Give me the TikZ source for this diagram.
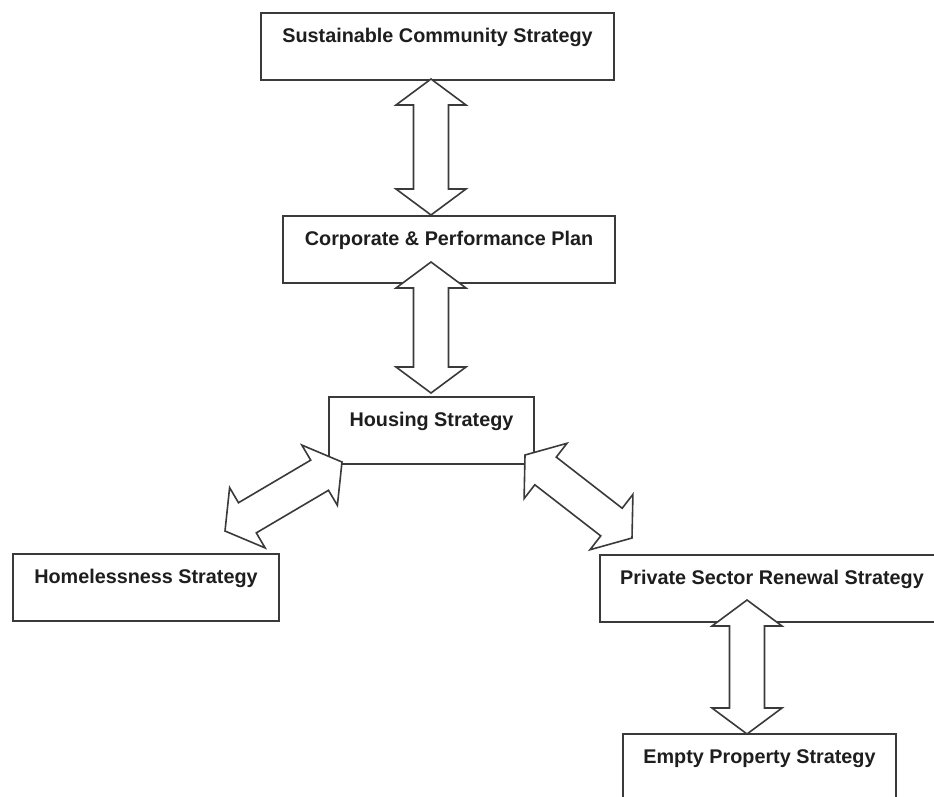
\documentclass[tikz,border=0pt]{standalone}
\usepackage{fontspec}
\setmainfont{Liberation Sans}
\usetikzlibrary{calc}
\definecolor{ln}{HTML}{3A3A3A}
\definecolor{tx}{HTML}{1E1E1E}
\tikzset{
  box/.style={draw=ln, line width=1.8pt, fill=white, inner xsep=0pt, inner ysep=0pt,
    text height=30pt, text depth=37pt, font=\bfseries\fontsize{19.8}{22}\selectfont, text=tx},
  barrow/.style={draw=ln, line width=1.6pt, fill=white, line join=miter},
}
\newcommand\blockarr[2]{%
  \path ($(#1)!26pt!(#2)$) coordinate (ha) ($(#2)!26pt!(#1)$) coordinate (hb);
  \draw[barrow] (#1) -- ($(ha)!35pt!90:(#2)$) -- ($(ha)!17.5pt!90:(#2)$)
    -- ($(hb)!17.5pt!-90:(#1)$) -- ($(hb)!35pt!-90:(#1)$) -- (#2)
    -- ($(hb)!35pt!90:(#1)$) -- ($(hb)!17.5pt!90:(#1)$)
    -- ($(ha)!17.5pt!-90:(#2)$) -- ($(ha)!35pt!-90:(#2)$) -- cycle;}
\begin{document}
\begin{tikzpicture}[x=1pt,y=-1pt]
\useasboundingbox (0,0) rectangle (934,796);
\clip (0,0) rectangle (934,796);
\fill[white] (0,0) rectangle (934,796);
% boxes: anchor north at top edge
\node[box, minimum width=353pt, anchor=north] (scs) at (437.5,12) {Sustainable Community Strategy};
\node[box, minimum width=332pt, anchor=north] (cpp) at (449,215) {Corporate \& Performance Plan};
\node[box, minimum width=205pt, anchor=north] (hs) at (431.5,396) {Housing Strategy};
\node[box, minimum width=266pt, anchor=north] (hls) at (146,553) {Homelessness Strategy};
\node[box, minimum width=344pt, anchor=north] (psr) at (772,554) {Private Sector Renewal Strategy};
\node[box, minimum width=273pt, anchor=north] (eps) at (759.5,733) {Empty Property Strategy};
% arrow end points
\coordinate (a1s) at (431,79);
\coordinate (a1e) at (431,215);
\coordinate (a2s) at (431,262);
\coordinate (a2e) at (431,393);
\coordinate (a3s) at (342,462);
\coordinate (a3e) at (225,531);
\coordinate (a4s) at (525,455);
\coordinate (a4e) at (632,538);
\coordinate (a5s) at (747,600);
\coordinate (a5e) at (747,734);
\blockarr{a1s}{a1e}
\blockarr{a2s}{a2e}
\blockarr{a3s}{a3e}
\blockarr{a4s}{a4e}
\blockarr{a5s}{a5e}
\end{tikzpicture}
\end{document}
